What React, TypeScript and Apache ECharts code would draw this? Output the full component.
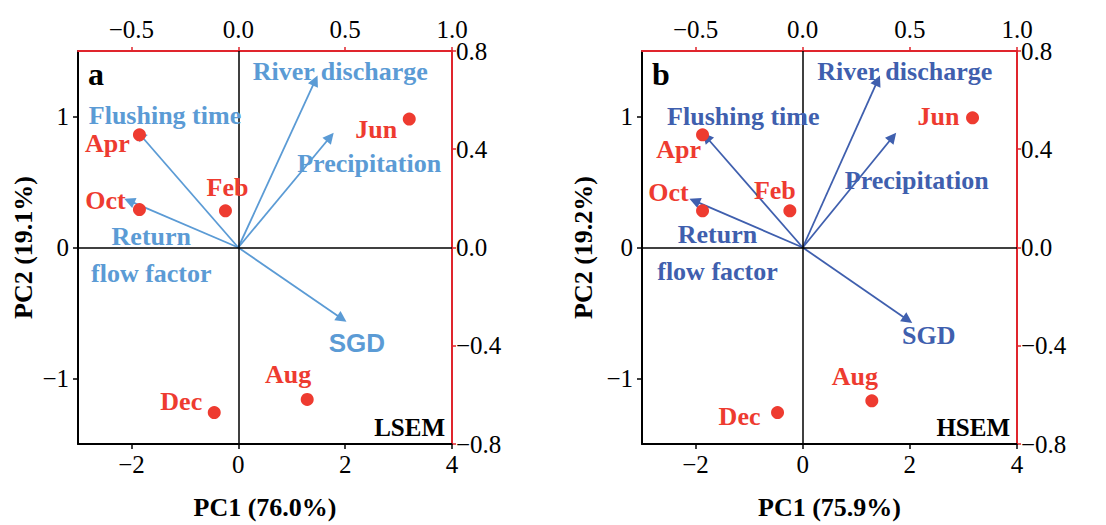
import React, { useEffect, useRef } from "react";
import * as echarts from "echarts";

const months = ["Feb", "Apr", "Jun", "Aug", "Oct", "Dec"];
const scoresA_PC1 = [-0.24, -1.85, 3.2, 1.29, -1.85, -0.45];
const scoresA_PC2 = [0.28, 0.86, 0.98, -1.16, 0.29, -1.26];
const scoresB_PC1 = [-0.24, -1.87, 3.17, 1.29, -1.87, -0.47];
const scoresB_PC2 = [0.28, 0.86, 0.99, -1.17, 0.28, -1.26];

const variables = ["River discharge", "Precipitation", "Flushing time", "Return flow factor", "SGD"];
const loadA_PC1 = [0.36, 0.43, -0.46, -0.51, 0.485];
const loadA_PC2 = [0.68, 0.45, 0.46, 0.19, -0.29];
const loadB_PC1 = [0.35, 0.42, -0.45, -0.505, 0.49];
const loadB_PC2 = [0.68, 0.45, 0.45, 0.19, -0.295];

const pc1Ticks = [-2, 0, 2, 4];
const pc2Ticks = [-1, 0, 1];
const loadXTicks = [-0.5, 0, 0.5, 1.0];

const panels = [
  { tag: "a", site: "LSEM", pc1: "PC1 (76.0%)", pc2: "PC2 (19.1%)", sx: scoresA_PC1, sy: scoresA_PC2, lx: loadA_PC1, ly: loadA_PC2 },
  { tag: "b", site: "HSEM", pc1: "PC1 (75.9%)", pc2: "PC2 (19.2%)", sx: scoresB_PC1, sy: scoresB_PC2, lx: loadB_PC1, ly: loadB_PC2 },
];

// styling (pixel offsets of labels)
const monthOffsets = [
  [[2, -23], [-32, 9], [-33, 10], [-19, -25], [-34, -9], [-33, -11]],
  [[-15, -20], [-24, 15], [-34, -1], [-17, -24], [-34, -18], [-38, 4]],
];
const varOffsets = [
  [[25, -9], [39, 27], [25, -19], [22, 54], [15, 24]],
  [[27, -9], [24, 44], [37, -20], [23, 52], [21, 16]],
];
const grids = [
  { left: 78, top: 51, width: 374, height: 396 },
  { left: 642, top: 51, width: 375, height: 396 },
];
const arrowColors = ["#5b9bd5", "#3f5fae"];
const titleGaps = [42, 46];
const RED = "#e0252d";
const PT = "#ee3b30";
const SERIF = "'Liberation Serif', 'Times New Roman', serif";

const fmt1 = (v: number) => (v < 0 ? "\u2212" + Math.abs(v).toFixed(1) : v.toFixed(1));
const fmt0 = (v: number) => (v < 0 ? "\u2212" + Math.abs(v) : String(v));

export default function App() {
  const ref = useRef<HTMLDivElement>(null);
  useEffect(() => {
    const chart = echarts.init(ref.current!, undefined, { renderer: "svg" });
    const xAxis: any[] = [];
    const yAxis: any[] = [];
    const series: any[] = [];
    const graphic: any[] = [];

    panels.forEach((p, i) => {
      const g = grids[i];
      const col = arrowColors[i];
      xAxis.push({
        gridIndex: i, type: "value", position: "bottom", min: -3, max: 4,
        name: p.pc1, nameLocation: "middle", nameGap: 50,
        nameTextStyle: { fontFamily: SERIF, fontSize: 26, fontWeight: "bold", color: "#000" },
        axisLine: { show: true, onZero: false, lineStyle: { color: "#000", width: 2 } },
        axisTick: { show: true, length: 5, customValues: pc1Ticks, lineStyle: { color: "#000", width: 1.5 } },
        axisLabel: { customValues: pc1Ticks, formatter: fmt0, fontFamily: SERIF, fontSize: 25, color: "#000", margin: 8 },
        splitLine: { show: false },
      });
      xAxis.push({
        gridIndex: i, type: "value", position: "top", min: -0.75, max: 1.0,
        axisLine: { show: true, onZero: false, lineStyle: { color: RED, width: 2 } },
        axisTick: { show: true, length: 4, customValues: loadXTicks, lineStyle: { color: RED, width: 1.5 } },
        axisLabel: { customValues: loadXTicks, formatter: fmt1, fontFamily: SERIF, fontSize: 25, color: "#000", margin: 9 },
        splitLine: { show: false },
      });
      yAxis.push({
        gridIndex: i, type: "value", position: "left", min: -1.5, max: 1.5,
        name: p.pc2, nameLocation: "middle", nameGap: titleGaps[i], nameRotate: 90,
        nameTextStyle: { fontFamily: SERIF, fontSize: 26, fontWeight: "bold", color: "#000" },
        axisLine: { show: true, onZero: false, lineStyle: { color: "#000", width: 2 } },
        axisTick: { show: true, length: 5, customValues: pc2Ticks, lineStyle: { color: "#000", width: 1.5 } },
        axisLabel: { customValues: pc2Ticks, formatter: fmt0, fontFamily: SERIF, fontSize: 25, color: "#000", margin: 9 },
        splitLine: { show: false },
      });
      yAxis.push({
        gridIndex: i, type: "value", position: "right", min: -0.8, max: 0.8, interval: 0.4,
        axisLine: { show: true, onZero: false, lineStyle: { color: RED, width: 2 } },
        axisTick: { show: true, length: 4, lineStyle: { color: RED, width: 1.5 } },
        axisLabel: { formatter: fmt1, fontFamily: SERIF, fontSize: 25, color: "#000", margin: 4 },
        splitLine: { show: false },
      });

      const xb = i * 2, xt = i * 2 + 1, yl = i * 2, yr = i * 2 + 1;

      series.push({
        type: "scatter", xAxisIndex: xb, yAxisIndex: yl, symbolSize: 13,
        itemStyle: { color: PT, opacity: 1 },
        z: 5,
        data: months.map((m, k) => ({
          name: m, value: [p.sx[k], p.sy[k]],
          label: { offset: monthOffsets[i][k] },
        })),
        label: {
          show: true, position: "inside", formatter: "{b}", align: "center", verticalAlign: "middle",
          fontFamily: SERIF, fontSize: 26, fontWeight: "bold", color: PT, opacity: 1, textBorderWidth: 0,
        },
        markLine: {
          silent: true, symbol: "none", animation: false,
          label: { show: false },
          lineStyle: { color: "#000", width: 1.5, type: "solid", opacity: 1 },
          data: [{ xAxis: 0 }, { yAxis: 0 }],
        },
      });

      series.push({
        type: "lines", coordinateSystem: "cartesian2d", xAxisIndex: xt, yAxisIndex: yr,
        symbol: ["none", "triangle"], symbolSize: [9, 11],
        lineStyle: { color: col, width: 1.8, opacity: 1 },
        z: 4,
        data: variables.map((v, k) => ({ name: v, coords: [[0, 0], [p.lx[k], p.ly[k]]] })),
      });

      series.push({
        type: "scatter", xAxisIndex: xt, yAxisIndex: yr, symbolSize: 0,
        itemStyle: { color: col, opacity: 1 },
        z: 6,
        data: variables.map((v, k) => ({
          name: v, value: [p.lx[k], p.ly[k]],
          label: {
            offset: varOffsets[i][k],
            ...(i === 0 && v === "SGD" ? { fontFamily: "'Liberation Sans', Arial, sans-serif" } : {}),
          },
        })),
        label: {
          show: true, position: "inside", align: "center", verticalAlign: "middle",
          formatter: (pr: any) => (pr.name === "Return flow factor" ? "Return\nflow factor" : pr.name),
          fontFamily: SERIF, fontSize: 26, fontWeight: "bold", color: col, lineHeight: 37,
          opacity: 1, textBorderWidth: 0,
        },
      });

      graphic.push({
        type: "text", left: g.left + 10, top: 58,
        style: { text: p.tag, fontFamily: SERIF, fontSize: 32, fontWeight: "bold", fill: "#000" },
      });
      graphic.push({
        type: "text", x: g.left + g.width - 7, y: 427,
        style: { text: p.site, fontFamily: SERIF, fontSize: 25, fontWeight: "bold", fill: "#000", align: "right", verticalAlign: "middle" },
      });
    });

    chart.setOption({
      animation: false,
      backgroundColor: "#fff",
      grid: grids.map((g) => ({ ...g, containLabel: false })),
      xAxis, yAxis, series, graphic,
    });
    return () => chart.dispose();
  }, []);
  return <div ref={ref} style={{ position: "fixed", left: 0, top: 0, width: 1106, height: 525 }} />;
}
